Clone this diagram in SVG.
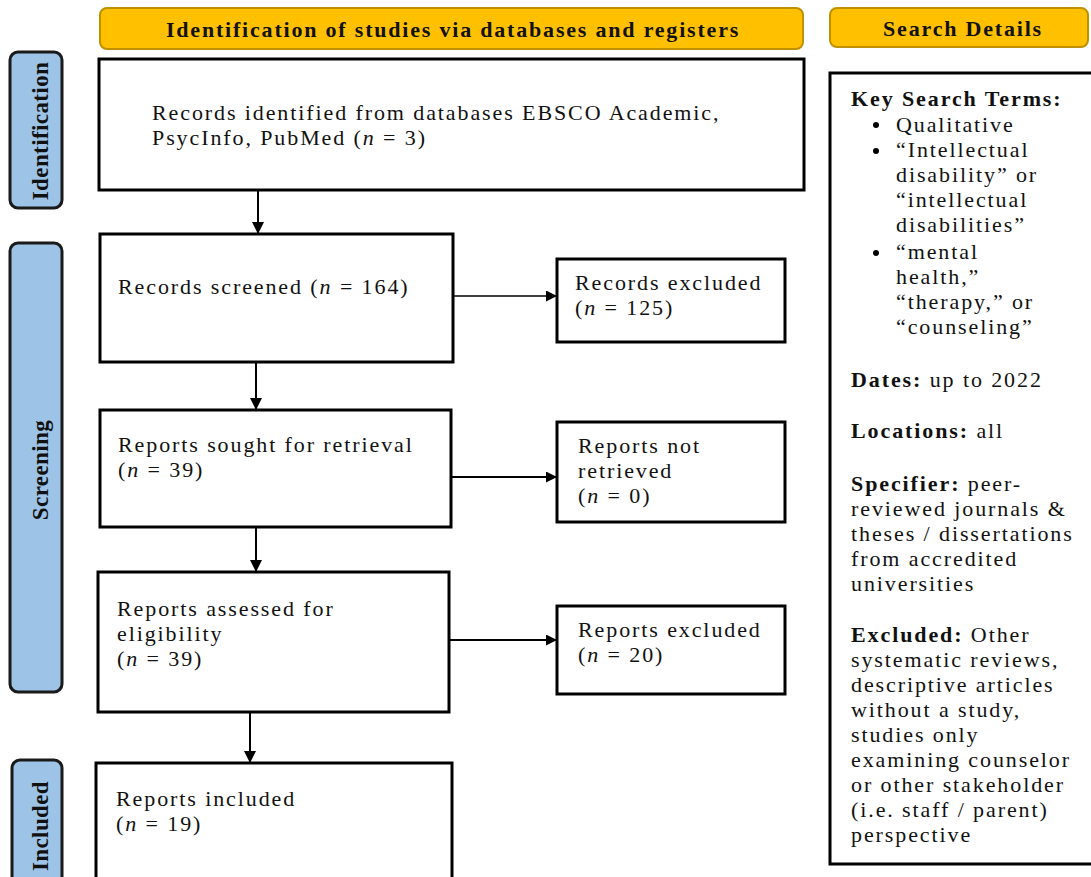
<svg xmlns="http://www.w3.org/2000/svg" width="1091" height="877" viewBox="0 0 1091 877">
<defs>
<style>
.hdr{fill:#FFC000;stroke:#BF9000;stroke-width:2}
.side{fill:#9DC3E6;stroke:#1a1a1a;stroke-width:3}
.box{fill:#fff;stroke:#000;stroke-width:3}
.t{font-family:"Liberation Serif","Times New Roman",serif;font-size:22px;fill:#111;letter-spacing:1.9px}
.b{font-weight:bold}
.ht{font-family:"Liberation Serif","Times New Roman",serif;font-size:22px;font-weight:bold;fill:#111;text-anchor:middle;letter-spacing:1.8px}
.st{font-family:"Liberation Serif","Times New Roman",serif;font-size:23px;font-weight:bold;fill:#111;text-anchor:middle;letter-spacing:0.4px}
.c{stroke:#000;fill:none}
</style>
<marker id="ah" viewBox="0 0 10 10" refX="10" refY="5" markerWidth="11" markerHeight="11" markerUnits="userSpaceOnUse" orient="auto">
<path d="M0,0 L10,5 L0,10 z" fill="#000"/>
</marker>
<marker id="av" viewBox="0 0 10 10" refX="10" refY="5" markerWidth="12" markerHeight="13" markerUnits="userSpaceOnUse" orient="auto">
<path d="M0,0 L10,5 L0,10 z" fill="#000"/>
</marker>
</defs>
<rect width="1091" height="877" fill="#fff"/>

<g id="header-identification">
<rect class="hdr" x="100" y="8" width="703" height="41" rx="7"/>
<text class="ht" x="453" y="37">Identification of studies via databases and registers</text>
</g>
<g id="header-search">
<rect class="hdr" x="830" y="8" width="258" height="39" rx="7"/>
<text class="ht" x="963" y="36">Search Details</text>
</g>

<g id="label-identification">
<rect class="side" x="10" y="52" width="52" height="156" rx="8"/>
<text class="st" transform="translate(48,131) rotate(-90)">Identification</text>
</g>
<g id="label-screening">
<rect class="side" x="10" y="243" width="52" height="449" rx="8"/>
<text class="st" transform="translate(48,470) rotate(-90)">Screening</text>
</g>
<g id="label-included">
<rect class="side" x="12" y="760" width="50" height="130" rx="8"/>
<text class="st" transform="translate(48,826) rotate(-90)">Included</text>
</g>

<g id="connectors">
<line class="c" stroke-width="2" x1="258" y1="190" x2="258" y2="234" marker-end="url(#av)"/>
<line class="c" stroke-width="2" x1="256" y1="362" x2="256" y2="410" marker-end="url(#av)"/>
<line class="c" stroke-width="2" x1="256" y1="527" x2="256" y2="572" marker-end="url(#av)"/>
<line class="c" stroke-width="2" x1="250" y1="712" x2="250" y2="763" marker-end="url(#av)"/>
<line class="c" stroke-width="1.5" x1="453" y1="296" x2="557" y2="296" marker-end="url(#ah)"/>
<line class="c" stroke-width="2" x1="451" y1="477" x2="557" y2="477" marker-end="url(#ah)"/>
<line class="c" stroke-width="2" x1="449" y1="640" x2="557" y2="640" marker-end="url(#ah)"/>
</g>

<g id="node-identified">
<rect class="box" x="99" y="59" width="705" height="131"/>
<text class="t" x="152" y="120">Records identified from databases EBSCO Academic,</text>
<text class="t" x="152" y="145">PsycInfo, PubMed (<tspan font-style="italic">n</tspan> = 3)</text>
</g>
<g id="node-screened">
<rect class="box" x="100" y="234" width="353" height="128"/>
<text class="t" x="118" y="294">Records screened (<tspan font-style="italic">n</tspan> = 164)</text>
</g>
<g id="node-records-excluded">
<rect class="box" x="557" y="259" width="228" height="83"/>
<text class="t" x="575" y="290">Records excluded</text>
<text class="t" x="575" y="315">(<tspan font-style="italic">n</tspan> = 125)</text>
</g>
<g id="node-sought">
<rect class="box" x="100" y="410" width="351" height="117"/>
<text class="t" x="118" y="452">Reports sought for retrieval</text>
<text class="t" x="118" y="477">(<tspan font-style="italic">n</tspan> = 39)</text>
</g>
<g id="node-not-retrieved">
<rect class="box" x="557" y="422" width="228" height="100"/>
<text class="t" x="578" y="453">Reports not</text>
<text class="t" x="578" y="478">retrieved</text>
<text class="t" x="578" y="503">(<tspan font-style="italic">n</tspan> = 0)</text>
</g>
<g id="node-assessed">
<rect class="box" x="98" y="572" width="351" height="140"/>
<text class="t" x="117" y="616">Reports assessed for</text>
<text class="t" x="117" y="641">eligibility</text>
<text class="t" x="117" y="666">(<tspan font-style="italic">n</tspan> = 39)</text>
</g>
<g id="node-reports-excluded">
<rect class="box" x="557" y="606" width="228" height="88"/>
<text class="t" x="578" y="637">Reports excluded</text>
<text class="t" x="578" y="662">(<tspan font-style="italic">n</tspan> = 20)</text>
</g>
<g id="node-included">
<rect class="box" x="96" y="763" width="356" height="130"/>
<text class="t" x="116" y="806">Reports included</text>
<text class="t" x="116" y="831">(<tspan font-style="italic">n</tspan> = 19)</text>
</g>

<g id="search-details">
<rect class="box" x="830" y="73" width="270" height="791"/>
<text class="t b" x="851" y="106">Key Search Terms:</text>
<circle cx="876" cy="125" r="3"/>
<text class="t" x="896" y="132">Qualitative</text>
<circle cx="876" cy="151" r="3"/>
<text class="t" x="896" y="157">“Intellectual</text>
<text class="t" x="896" y="182">disability” or</text>
<text class="t" x="896" y="207">“intellectual</text>
<text class="t" x="896" y="232">disabilities”</text>
<circle cx="876" cy="253" r="3"/>
<text class="t" x="896" y="259">“mental</text>
<text class="t" x="896" y="284">health,”</text>
<text class="t" x="896" y="309">“therapy,” or</text>
<text class="t" x="896" y="334">“counseling”</text>
<text class="t" x="851" y="387"><tspan class="b">Dates:</tspan> up to 2022</text>
<text class="t" x="851" y="438"><tspan class="b">Locations:</tspan> all</text>
<text class="t" x="851" y="491"><tspan class="b">Specifier:</tspan> peer-</text>
<text class="t" x="851" y="516">reviewed journals &amp;</text>
<text class="t" x="851" y="541">theses / dissertations</text>
<text class="t" x="851" y="566">from accredited</text>
<text class="t" x="851" y="591">universities</text>
<text class="t" x="851" y="642"><tspan class="b">Excluded:</tspan> Other</text>
<text class="t" x="851" y="667">systematic reviews,</text>
<text class="t" x="851" y="692">descriptive articles</text>
<text class="t" x="851" y="717">without a study,</text>
<text class="t" x="851" y="742">studies only</text>
<text class="t" x="851" y="767">examining counselor</text>
<text class="t" x="851" y="792">or other stakeholder</text>
<text class="t" x="851" y="817">(i.e. staff / parent)</text>
<text class="t" x="851" y="842">perspective</text>
</g>
</svg>
